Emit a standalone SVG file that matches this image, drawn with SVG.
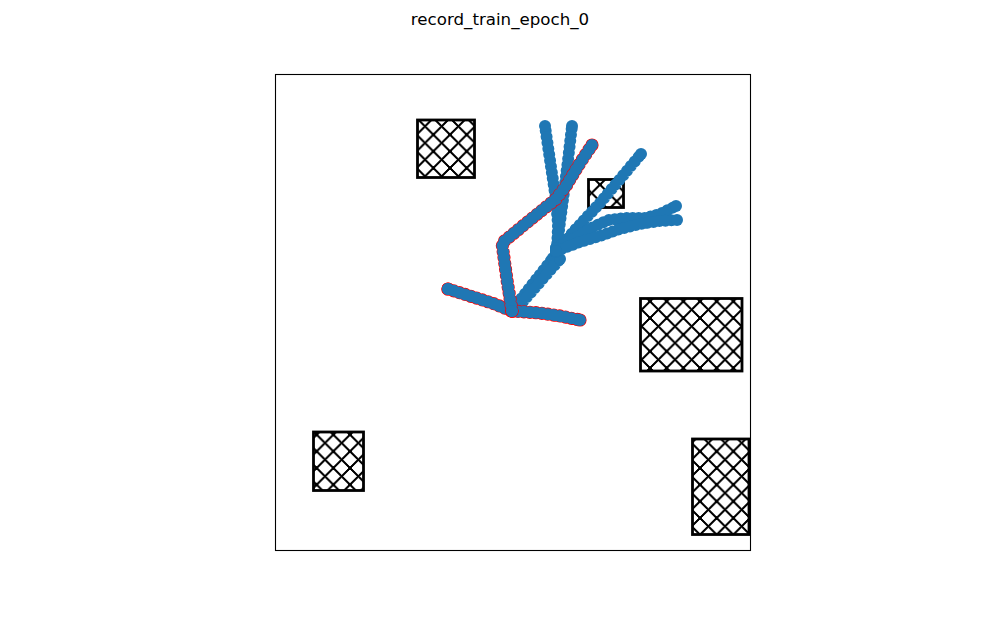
<svg xmlns="http://www.w3.org/2000/svg" xmlns:xlink="http://www.w3.org/1999/xlink" width="1000" height="618" viewBox="0 0 1000 618">
<style>
.title{font-family:"DejaVu Sans",sans-serif;font-size:16.67px;fill:#000;text-anchor:middle}
.frame{fill:none;stroke:#000;stroke-width:1.1}
.obs{fill:url(#hatch);stroke:#000;stroke-width:2.8}
.tb{fill:none;stroke:#1f77b4;stroke-width:12;stroke-linecap:round;stroke-linejoin:round;stroke-dasharray:0 6;marker-start:url(#dotB);marker-end:url(#dotB)}
.tr{fill:none;stroke:#ff0000;stroke-width:13.2;stroke-linecap:round;stroke-linejoin:round;stroke-dasharray:0 6;marker-start:url(#dotR);marker-end:url(#dotR)}
</style>
<defs>
<pattern id="hatch" patternUnits="userSpaceOnUse" x="0" y="1.333" width="16.667" height="16.667">
<path d="M-2,-2 L18.667,18.667 M-2,18.667 L18.667,-2" stroke="#000" stroke-width="1.5" fill="none" shape-rendering="crispEdges"/>
</pattern>
<marker id="dotB" markerUnits="userSpaceOnUse" markerWidth="16" markerHeight="16" refX="8" refY="8" overflow="visible">
<circle cx="8" cy="8" r="6" fill="#1f77b4"/>
</marker>
<marker id="dotR" markerUnits="userSpaceOnUse" markerWidth="16" markerHeight="16" refX="8" refY="8" overflow="visible">
<circle cx="8" cy="8" r="6.6" fill="#ff0000"/>
</marker>
<path id="r1" d="M448,289 L470,296 L492,303 L512,311"/>
<path id="r2" d="M512,311 L540,313 L560,316 L580,320"/>
<path id="r3" d="M512,311 L507,280 L502,243 L530,220 L556,199 L566,186 L580,163 L592,145"/>
</defs>
<rect width="1000" height="618" fill="#fff"/>
<text class="title" x="500" y="25">record_train_epoch_0</text>
<rect class="frame" x="275.5" y="74.5" width="475" height="476"/>
<g id="obstacles">
<rect id="obs1" class="obs" x="417.5" y="120" width="57" height="57.5"/>
<rect id="obs2" class="obs" x="588.5" y="179.5" width="35" height="28"/>
<rect id="obs3" class="obs" x="640.5" y="298.5" width="101.5" height="72.5"/>
<rect id="obs4" class="obs" x="313.5" y="432" width="50" height="58.5"/>
<rect id="obs5" class="obs" x="692.5" y="439" width="56.5" height="95.5"/>
</g>
<g id="trajectories">
<path class="tb" d="M514,308 L553,258"/>
<path class="tb" d="M519,306 L560,259"/>
<path class="tb" d="M557,250 L558,225 L556,200 L550,160 L545,126"/>
<path class="tb" d="M557,248 L560,222 L563,200 L568,160 L572,126"/>
<path class="tb" d="M556,252 L575,230 L600,203 L641,154"/>
<path class="tb" d="M556,248 L575,238 L595,226 L608,220 L625,218 L645,218 L660,214 L676,206"/>
<path class="tb" d="M556,251 L580,242 L600,236 L620,229 L640,224 L660,221 L677,220"/>
<use xlink:href="#r1" class="tr"/><use xlink:href="#r1" class="tb"/>
<use xlink:href="#r2" class="tr"/><use xlink:href="#r2" class="tb"/>
<use xlink:href="#r3" class="tr"/><use xlink:href="#r3" class="tb"/>
</g>
</svg>
